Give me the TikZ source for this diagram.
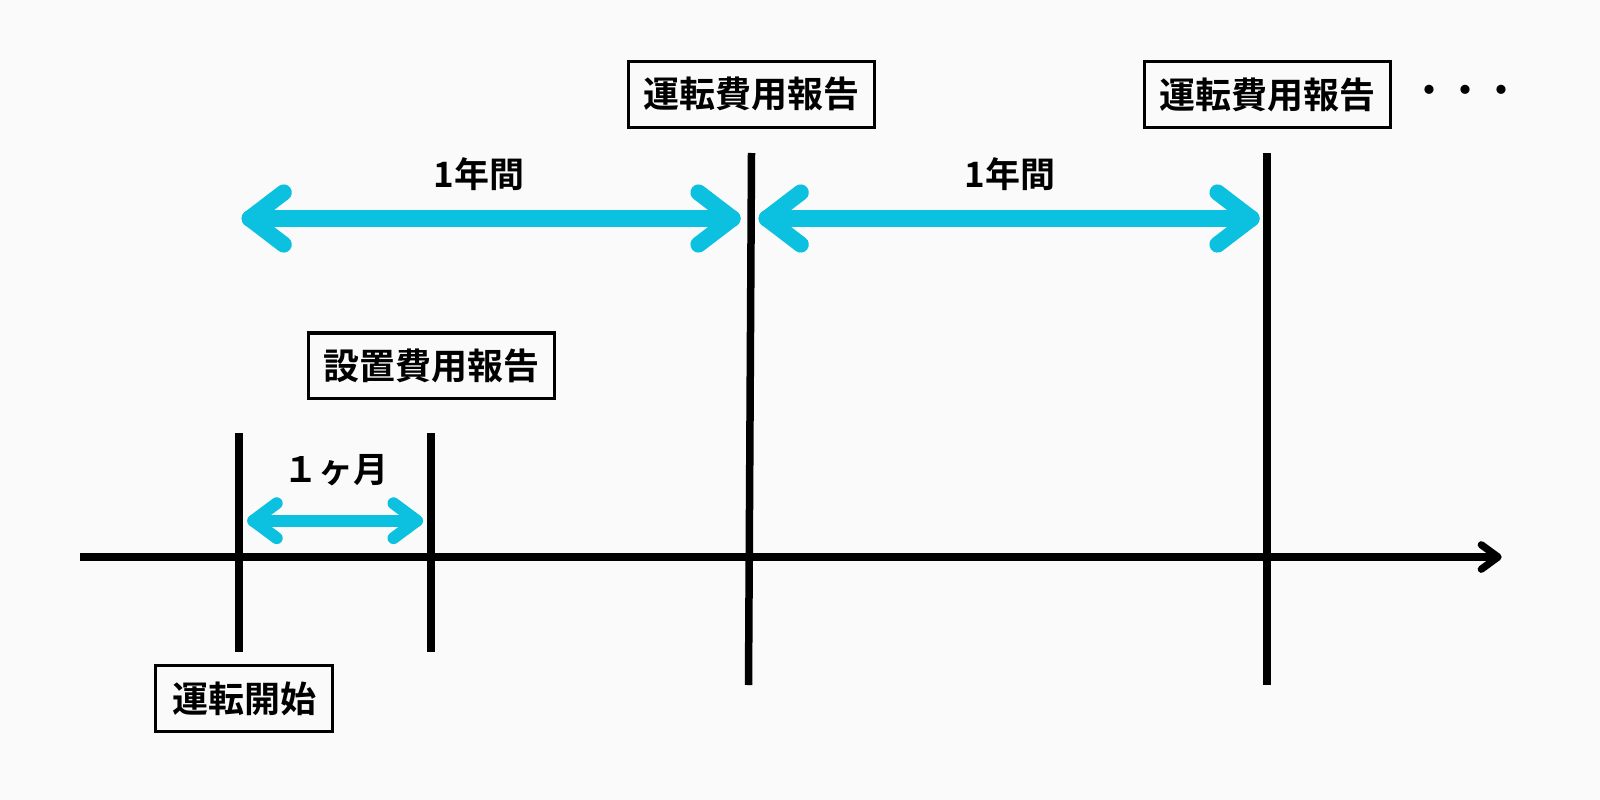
\documentclass[tikz,border=0pt]{standalone}
\usepackage{fontspec}
\usetikzlibrary{calc}
\newfontfamily\jp{Noto Sans CJK JP}[BoldFont={Noto Sans CJK JP Bold}]
\definecolor{bg}{RGB}{250,250,250}
\definecolor{band}{RGB}{12,193,224}
\begin{document}
\begin{tikzpicture}[x=1pt,y=-1pt,
  axisline/.style={line width=7.3pt, black},
  tickline/.style={line width=7.5pt, black},
  bandbig/.style={line width=16.2pt, draw=band, line cap=round, line join=round},
  bandsmall/.style={line width=12pt, draw=band, line cap=round, line join=round},
  lbl/.style={font=\jp\bfseries\fontsize{35}{40}\selectfont, inner sep=0pt},
  report/.style={draw, line width=3.3pt, font=\jp\bfseries\fontsize{36}{40}\selectfont,
    inner sep=0pt, minimum width=245.7pt, minimum height=65.7pt}
]
\useasboundingbox[fill=bg] (0,0) rectangle (1600,800);

% axis
\coordinate (axL) at (80,557);
\coordinate (axR) at (1498,557);
\draw[axisline] (axL) -- (axR);
\draw[axisline, line cap=round, line join=round] ($(axR)+(-16.7,-12.2)$) -- (axR) -- ($(axR)+(-16.7,12.2)$);

% ticks
\coordinate (t1a) at (239,433);   \coordinate (t1b) at (239,652);
\coordinate (t2a) at (431,433);   \coordinate (t2b) at (431,652);
\coordinate (t3a) at (751.5,153); \coordinate (t3b) at (748.5,685);
\coordinate (t4a) at (1267,153);  \coordinate (t4b) at (1267,685);
\draw[tickline] (t1a) -- (t1b);
\draw[tickline] (t2a) -- (t2b);
\draw[tickline] (t3a) -- (t3b);
\draw[tickline] (t4a) -- (t4b);

% top arrows (1 year)
\coordinate (y1L) at (249.7,218.5); \coordinate (y1R) at (732.5,218.5);
\coordinate (y2L) at (766.7,218.5); \coordinate (y2R) at (1251.5,218.5);
\foreach \l/\r in {y1L/y1R, y2L/y2R}{
  \draw[bandbig] (\l) -- (\r);
  \draw[bandbig] ($(\l)+(34,-26)$) -- (\l) -- ($(\l)+(34,26)$);
  \draw[bandbig] ($(\r)+(-34,-26)$) -- (\r) -- ($(\r)+(-34,26)$);
}

% small arrow (1 month)
\coordinate (mL) at (253.3,520.7); \coordinate (mR) at (416.9,520.7);
\draw[bandsmall] (mL) -- (mR);
\draw[bandsmall] ($(mL)+(23.4,-17.4)$) -- (mL) -- ($(mL)+(23.4,17.4)$);
\draw[bandsmall] ($(mR)+(-23.4,-17.4)$) -- (mR) -- ($(mR)+(-23.4,17.4)$);

% labels
\node[lbl] (ly1) at (479,174) {1年間};
\node[lbl] (ly2) at (1010,174) {1年間};
\node[lbl] (lm) at (336,470) {１ヶ月};

% boxes
\node[report] (b1) at (751.4,94.3) {運転費用報告};
\node[report] (b2) at (1267.5,94.5) {運転費用報告};
\node[report] (b3) at (431.3,365.8) {設置費用報告};
\node[report, minimum width=176.7pt] (b4) at (244,698.5) {運転開始};
\node[lbl, font=\jp\bfseries\fontsize{36}{40}\selectfont] (dots) at (1465,94.3) {・・・};
\end{tikzpicture}
\end{document}
